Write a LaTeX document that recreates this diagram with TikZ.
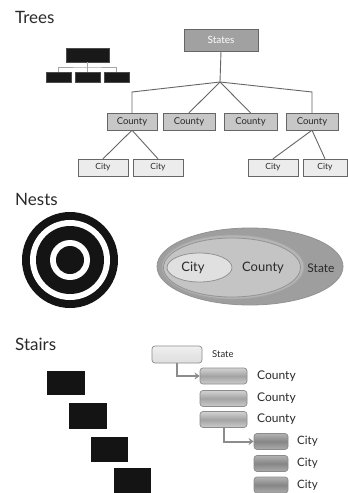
\documentclass[tikz,border=0pt]{standalone}
\usepackage{fontspec}
\setmainfont{Lato}
\usetikzlibrary{arrows.meta}
\definecolor{txt}{HTML}{2A2A2A}
\definecolor{ln}{HTML}{666666}
\begin{document}
\begin{tikzpicture}[x=1pt,y=-1pt,
  title/.style={anchor=west,font=\fontsize{17}{20}\selectfont,text=txt,inner sep=0pt},
  tbox/.style={draw=#1!80!black,minimum height=17pt,inner sep=0pt,font=\fontsize{9.5}{11}\selectfont,text=txt},
  conn/.style={draw=ln,line width=0.9pt},
  blk/.style={fill=black!90,draw=black!70,inner sep=0pt},
  sbox/.style={rounded corners=3pt,draw=gray!90,line width=0.7pt,inner sep=0pt},
  slabel/.style={anchor=west,text=txt,inner sep=0pt},
  arr/.style={draw=gray!90,line width=2pt,-{Stealth[length=5pt,width=7pt]}}
]
\useasboundingbox (0,0) rectangle (348,493);
\fill[white] (0,0) rectangle (348,493);

% ---------- Trees ----------
\node[title] (ttrees) at (15,17) {Trees};

% small black tree
\node[blk,minimum width=43pt,minimum height=14pt] (bt) at (87.5,55) {};
\node[blk,minimum width=25pt,minimum height=10pt] (bb1) at (58.5,77) {};
\node[blk,minimum width=25pt,minimum height=10pt] (bb2) at (87.5,77) {};
\node[blk,minimum width=25pt,minimum height=10pt] (bb3) at (116.5,77) {};
\coordinate (bj) at (87.5,67);
\draw[draw=gray!70,line width=0.7pt] (bt.south) -- (bj);
\draw[draw=gray!70,line width=0.7pt] (bb1.north) |- (bj) -| (bb3.north);
\draw[draw=gray!70,line width=0.7pt] (bj) -- (bb2.north);

% big tree
\node[tbox=gray,fill=gray!74,minimum width=74pt,minimum height=22pt,text=white,font=\fontsize{10}{11}\selectfont] (states) at (221,40) {States};
\node[tbox=gray,fill=gray!44,minimum width=50pt] (c1) at (132,121.5) {County};
\node[tbox=gray,fill=gray!44,minimum width=52pt] (c2) at (189,121.5) {County};
\node[tbox=gray,fill=gray!44,minimum width=53pt] (c3) at (250.5,121.5) {County};
\node[tbox=gray,fill=gray!44,minimum width=52pt] (c4) at (312,121.5) {County};
\node[tbox=gray,fill=gray!15,minimum width=50pt,font=\fontsize{8.5}{10}\selectfont] (t1) at (103,167.5) {City};
\node[tbox=gray,fill=gray!15,minimum width=50pt,font=\fontsize{8.5}{10}\selectfont] (t2) at (158,167.5) {City};
\node[tbox=gray,fill=gray!15,minimum width=50pt,font=\fontsize{8.5}{10}\selectfont] (t3) at (273,167.5) {City};
\node[tbox=gray,fill=gray!15,minimum width=44pt,font=\fontsize{8.5}{10}\selectfont] (t4) at (325,167.5) {City};

\coordinate (J) at (220,82);
\coordinate (JL) at (132,92);
\coordinate (JR) at (312,92);
\draw[conn] (states.south) -- (J);
\draw[conn] (J) -- (JL) -- (c1.north);
\draw[conn] (J) -- (JR) -- (c4.north);
\draw[conn] (J) -- (c2.north);
\draw[conn] (J) -- (c3.north);
\draw[conn] (c1.south) -- (t1.north);
\draw[conn] (c1.south) -- (t2.north);
\draw[conn] (c4.south) -- (t3.north);
\draw[conn] (c4.south) -- (t4.north);

% ---------- Nests ----------
\node[title] (tnests) at (15,199) {Nests};

\fill[black!92] (70,260) circle (48);
\fill[white] (70,260) circle (40);
\fill[black!92] (70,260) circle (34);
\fill[white] (70,260) circle (20);
\fill[black!92] (70,260) circle (14);

\draw[gray!85,fill=gray!76,line width=0.8pt] (250,266.5) ellipse [x radius=93, y radius=38.5];
\draw[gray!70,fill=gray!58,line width=0.8pt] (233,267) ellipse [x radius=71, y radius=32];
\draw[gray!85,fill=gray!46,line width=0.8pt] (232,267.5) ellipse [x radius=68.5, y radius=29.5];
\draw[gray!85,fill=gray!24,line width=0.8pt] (199.5,267.5) ellipse [x radius=32.5, y radius=14.5];
\node[text=txt,font=\fontsize{13}{15}\selectfont,inner sep=0pt] (ncity) at (193,268) {City};
\node[text=txt,font=\fontsize{13}{15}\selectfont,inner sep=0pt] (ncounty) at (263,268) {County};
\node[text=txt,font=\fontsize{12}{14}\selectfont,inner sep=0pt] (nstate) at (321,268) {State};

% ---------- Stairs ----------
\node[title] (tstairs) at (15,344) {Stairs};

\fill[black!92] (47,371) rectangle (85,395);
\fill[black!92] (69,403) rectangle (107,429);
\fill[black!92] (91,437) rectangle (128,462);
\fill[black!92] (114,468) rectangle (151,496);

\node[sbox,top color=gray!12,bottom color=gray!25,middle color=gray!20,minimum width=50pt,minimum height=17pt] (sstate) at (177,354.5) {};
\node[sbox,top color=gray!35,bottom color=gray!40,middle color=gray!72,minimum width=47pt,minimum height=16pt] (sc1) at (223.5,376) {};
\node[sbox,top color=gray!35,bottom color=gray!40,middle color=gray!72,minimum width=47pt,minimum height=16pt] (sc2) at (223.5,398.5) {};
\node[sbox,top color=gray!35,bottom color=gray!40,middle color=gray!72,minimum width=47pt,minimum height=16pt] (sc3) at (223.5,419.5) {};
\node[sbox,top color=gray!60,bottom color=gray!65,middle color=gray!95,minimum width=34pt,minimum height=16pt] (sy1) at (271,441.5) {};
\node[sbox,top color=gray!60,bottom color=gray!65,middle color=gray!95,minimum width=34pt,minimum height=16pt] (sy2) at (271,463.5) {};
\node[sbox,top color=gray!60,bottom color=gray!65,middle color=gray!95,minimum width=34pt,minimum height=16pt] (sy3) at (271,485) {};

\node[slabel,font=\fontsize{9.5}{11}\selectfont] (lstate) at (212,354) {State};
\node[slabel,font=\fontsize{12}{14}\selectfont] (lc1) at (257,376) {County};
\node[slabel,font=\fontsize{12}{14}\selectfont] (lc2) at (257,398) {County};
\node[slabel,font=\fontsize{12}{14}\selectfont] (lc3) at (257,419) {County};
\node[slabel,font=\fontsize{11.5}{13}\selectfont] (ly1) at (297,441) {City};
\node[slabel,font=\fontsize{11.5}{13}\selectfont] (ly2) at (297,463) {City};
\node[slabel,font=\fontsize{11.5}{13}\selectfont] (ly3) at (297,485) {City};

\draw[arr] (sstate.south) |- (sc1.west);
\draw[arr] (sc3.south) |- (sy1.west);
\end{tikzpicture}
\end{document}
